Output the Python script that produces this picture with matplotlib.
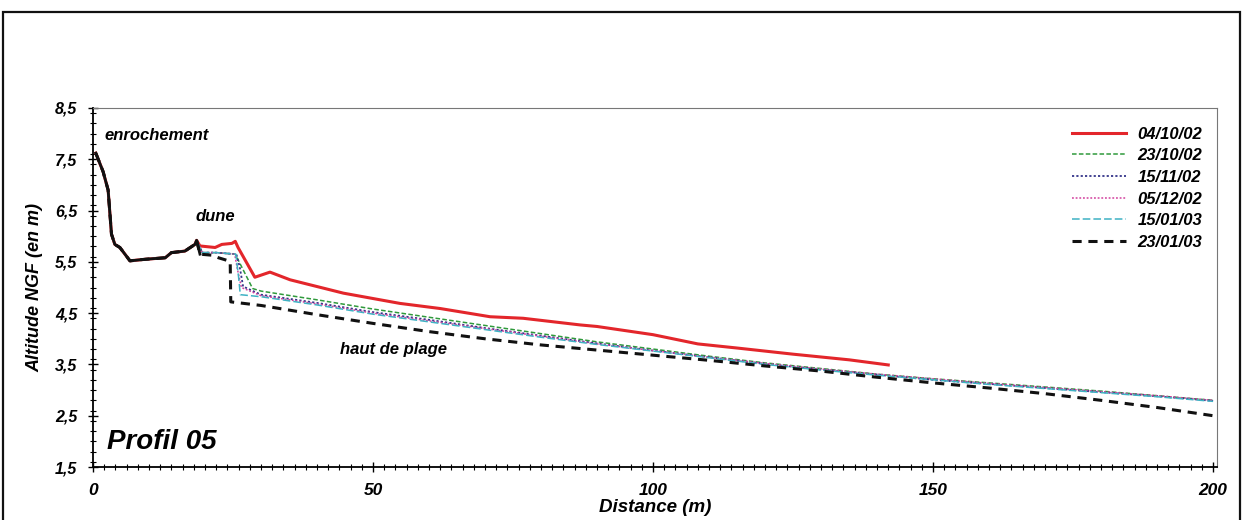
import numpy as np
import matplotlib
matplotlib.use("Agg")
import matplotlib.pyplot as plt
from matplotlib.patches import Rectangle
from matplotlib.ticker import MultipleLocator, FuncFormatter

plt.rcParams['font.family'] = ['Liberation Sans', 'DejaVu Sans']

# partie commune (enrochement + dune), identique pour tous les levés
dune_x = [0.5, 1.8, 2.7, 3.3, 3.9, 4.8, 6.6, 9.3, 12.9, 14.0, 16.4, 18.2, 18.5]
dune_z = [7.62, 7.26, 6.9, 6.04, 5.84, 5.78, 5.52, 5.55, 5.58, 5.68, 5.71, 5.84, 5.92]

# suite de chaque profil
x_0410 = [19.1, 21.8, 23.0, 24.8, 25.4, 25.9, 28.9, 31.6, 35.2, 44.7, 54.8, 62.0, 70.9, 76.8,
          87.0, 90.0, 100.0, 108.0, 115.0, 125.0, 135.0, 142.0]
z_0410 = [5.81, 5.78, 5.84, 5.86, 5.9, 5.78, 5.2, 5.3, 5.15, 4.89, 4.69, 4.59, 4.43, 4.4,
          4.27, 4.24, 4.08, 3.9, 3.82, 3.7, 3.59, 3.49]

x_2310 = [19.5, 22.0, 25.4, 28.5, 30, 40, 50, 60, 70, 80, 90, 100, 110, 120, 130, 140, 150, 160, 170, 180, 190, 200]
z_2310 = [5.68, 5.68, 5.65, 4.98, 4.93, 4.76, 4.58, 4.42, 4.26, 4.1, 3.94, 3.8, 3.66, 3.53, 3.42, 3.31, 3.22, 3.14, 3.06, 2.98, 2.89, 2.8]

x_1511 = [19.5, 22.0, 25.6, 26.2, 26.8, 30, 40, 50, 60, 70, 80, 90, 100, 110, 120, 130, 140, 150, 160, 170, 180, 190, 200]
z_1511 = [5.68, 5.68, 5.65, 5.4, 5.02, 4.86, 4.7, 4.52, 4.37, 4.21, 4.06, 3.91, 3.77, 3.64, 3.51, 3.4, 3.3, 3.2, 3.12, 3.04, 2.96, 2.88, 2.79]

x_0512 = [19.5, 22.0, 25.3, 25.8, 26.5, 30, 40, 50, 60, 70, 80, 90, 100, 110, 120, 130, 140, 150, 160, 170, 180, 190, 200]
z_0512 = [5.68, 5.68, 5.65, 5.35, 5.0, 4.84, 4.68, 4.5, 4.35, 4.2, 4.05, 3.9, 3.77, 3.64, 3.52, 3.41, 3.31, 3.22, 3.13, 3.05, 2.97, 2.89, 2.8]

x_1501 = [19.5, 22.0, 25.5, 26.0, 26.3, 30, 40, 50, 60, 70, 80, 90, 100, 110, 120, 130, 140, 150, 160, 170, 180, 190, 200]
z_1501 = [5.68, 5.68, 5.65, 5.2, 4.86, 4.82, 4.66, 4.48, 4.33, 4.18, 4.03, 3.89, 3.76, 3.63, 3.5, 3.39, 3.29, 3.2, 3.11, 3.03, 2.95, 2.87, 2.78]

x_2301 = [19.1, 21.2, 22.4, 24.2, 24.5, 24.6, 30, 40, 50, 60, 70, 80, 90, 100, 110, 120, 130, 140, 150, 160, 170, 180, 190, 200]
z_2301 = [5.65, 5.63, 5.58, 5.52, 5.5, 4.72, 4.65, 4.47, 4.3, 4.14, 4.0, 3.88, 3.78, 3.68, 3.58, 3.47, 3.37, 3.25, 3.14, 3.04, 2.93, 2.8, 2.66, 2.5]

dates = ['04/10/02', '23/10/02', '15/11/02', '05/12/02', '15/01/03', '23/01/03']

fig = plt.figure(figsize=(12.43, 5.2), dpi=100)
ax = fig.add_axes([93/1243, 1-467/520, (1217-93)/1243, (467-108)/520])

styles = [
    dict(color='#e3262b', lw=2.2, ls='-'),
    dict(color='#2f9a3c', lw=1.1, ls=(0, (3, 1.5))),
    dict(color='#35358a', lw=1.3, ls=(0, (1.2, 1.2))),
    dict(color='#d2409e', lw=1.1, ls=(0, (1.2, 1.2))),
    dict(color='#3fb2c4', lw=1.1, ls=(0, (5, 2))),
    dict(color='#111111', lw=2.2, ls=(0, (3, 2.2))),
]
xs = [x_0410, x_2310, x_1511, x_0512, x_1501, x_2301]
zs = [z_0410, z_2310, z_1511, z_0512, z_1501, z_2301]

for lab, x, z, st in zip(dates, xs, zs, styles):
    ax.plot(dune_x + x, dune_z + z, label=lab, **st)
# partie commune tracée en trait plein noir par-dessus
ax.plot(dune_x + [19.1], dune_z + [5.65], color='#111111', lw=2.0)

ax.set_xlim(0, 200.7)
ax.set_ylim(1.5, 8.5)
ax.xaxis.set_major_locator(MultipleLocator(50))
ax.xaxis.set_minor_locator(MultipleLocator(2))
ax.set_yticks(np.arange(1.5, 8.6, 1.0))
ax.yaxis.set_minor_locator(MultipleLocator(0.2))
ax.yaxis.set_major_formatter(FuncFormatter(lambda v, p: ('%.1f' % v).replace('.', ',')))
ax.tick_params(which='major', direction='inout', length=7, width=1, labelsize=11.5, pad=8)
ax.tick_params(axis='x', which='major', labelsize=12.5)
ax.tick_params(which='minor', direction='inout', length=4, width=0.8)
for lbl in ax.get_xticklabels() + ax.get_yticklabels():
    lbl.set_fontweight('bold')
    lbl.set_fontstyle('italic')

for s in ['left', 'bottom']:
    ax.spines[s].set_linewidth(1.3)
for s in ['top', 'right']:
    ax.spines[s].set_linewidth(0.8)
    ax.spines[s].set_color('#777777')

ax.set_xlabel('Distance (m)', fontsize=13.5, fontweight='bold', fontstyle='italic', labelpad=1)
ax.set_ylabel('Altitude NGF (en m)', fontsize=13, fontweight='bold', fontstyle='italic', labelpad=8)

ax.text(2.0, 7.97, 'enrochement', fontsize=12, fontweight='bold', fontstyle='italic', va='center')
ax.text(21.8, 6.39, 'dune', fontsize=12, fontweight='bold', fontstyle='italic', va='center', ha='center')
ax.text(53.6, 3.79, 'haut de plage', fontsize=12, fontweight='bold', fontstyle='italic', va='center', ha='center')
ax.text(2.5, 1.99, 'Profil 05', fontsize=20, fontweight='bold', fontstyle='italic', va='center')

leg = ax.legend(loc='upper right', bbox_to_anchor=(1.0, 0.99), frameon=False,
                handlelength=3.2, labelspacing=0.4, handletextpad=0.7,
                prop=dict(size=12, weight='bold', style='italic'))

fig.add_artist(Rectangle((3/1243, -0.1), (1240-3)/1243, 1.1 - 12/520, transform=fig.transFigure,
                         fill=False, lw=1.6, edgecolor='#111111', clip_on=False))

fig.savefig('out.png', dpi=100)
